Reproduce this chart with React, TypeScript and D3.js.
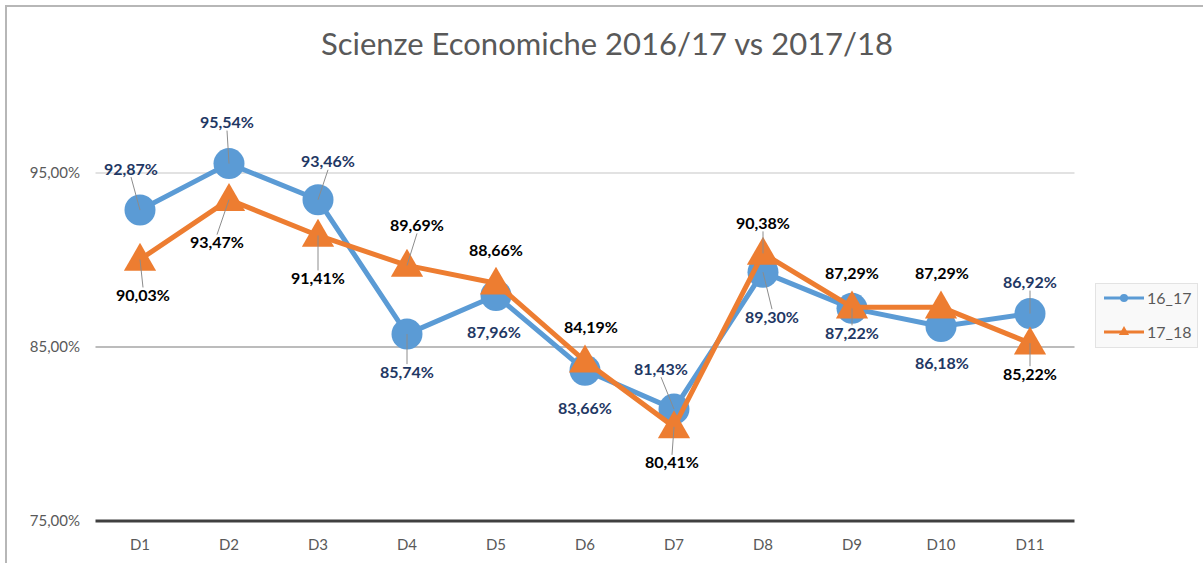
import React from "react";
import * as d3 from "d3";

const categories = ["D1", "D2", "D3", "D4", "D5", "D6", "D7", "D8", "D9", "D10", "D11"];
const series1617 = [92.87, 95.54, 93.46, 85.74, 87.96, 83.66, 81.43, 89.3, 87.22, 86.18, 86.92];
const series1718 = [90.03, 93.47, 91.41, 89.69, 88.66, 84.19, 80.41, 90.38, 87.29, 87.29, 85.22];
const yTicks = [75, 85, 95];
const seriesNames = ["16_17", "17_18"];

// label layout offsets (dx, dy of label centre from the point) and leader-line flags
const labelOff1617: [number, number, boolean][] = [
  [-9, -41, true], [-2, -41, true], [10, -38, true], [0, 38, true], [-2, 37, false],
  [0, 38, false], [-13, -40, true], [9, 45, true], [0, 25, true], [1, 37, false], [0, -31, true],
];
const labelOff1718: [number, number, boolean][] = [
  [3, 36, true], [-12, 43, true], [0, 43, true], [10, -40, true], [0, -33, false],
  [6, -34, false], [-2, 36, true], [0, -30, true], [0, -34, false], [1, -34, false], [0, 31, true],
];

const W = 1203, H = 563;
const BLUE = "#5B9BD5", ORANGE = "#ED7D31";
const FONT = "Lato, 'Open Sans', sans-serif";

const fmt = (v: number) => v.toFixed(2).replace(".", ",") + "%";

export default function App() {
  const x = d3.scaleBand<string>().domain(categories).range([95.5, 1074.5]);
  const y = d3.scaleLinear().domain([75, 95]).range([521, 173]);
  const cx = (c: string) => (x(c) as number) + x.bandwidth() / 2;

  const line = d3.line<number>().x((_, i) => cx(categories[i])).y((v) => y(v));
  const tri = d3.symbol().type(d3.symbolTriangle).size(450)();
  const triSmall = d3.symbol().type(d3.symbolTriangle).size(45)();

  const series = [
    { name: seriesNames[0], values: series1617, color: BLUE, lab: "#1F3864", off: labelOff1617, marker: "circle" },
    { name: seriesNames[1], values: series1718, color: ORANGE, lab: "#000000", off: labelOff1718, marker: "tri" },
  ];

  return (
    <svg width={W} height={H} style={{ position: "absolute", left: 0, top: 0, background: "#fff" }}>
      <rect x={6} y={6} width={1400} height={800} fill="#fff" stroke="#b7b7b7" strokeWidth={2} />
      <text x={607} y={55} textAnchor="middle" fontFamily={FONT} fontSize={31} fill="#595959">
        Scienze Economiche 2016/17 vs 2017/18
      </text>
      {/* gridlines */}
      <line x1={95.5} x2={1074.5} y1={y(95)} y2={y(95)} stroke="#d9d9d9" strokeWidth={1.5} />
      <line x1={95.5} x2={1074.5} y1={y(85)} y2={y(85)} stroke="#a6a6a6" strokeWidth={1.5} />
      <line x1={95.5} x2={1074.5} y1={y(75)} y2={y(75)} stroke="#404040" strokeWidth={3} />
      {yTicks.map((t) => (
        <text key={t} x={80} y={y(t)} dy="0.35em" textAnchor="end" fontFamily={FONT} fontSize={15} fill="#595959">
          {t.toFixed(2).replace(".", ",") + "%"}
        </text>
      ))}
      {categories.map((c) => (
        <text key={c} x={cx(c)} y={545} dy="0.35em" textAnchor="middle" fontFamily={FONT} fontSize={15} fill="#595959">
          {c}
        </text>
      ))}
      {series.map((s) => (
        <g key={s.name}>
          <path d={line(s.values) || ""} fill="none" stroke={s.color} strokeWidth={5} strokeLinejoin="round" />
          {s.values.map((v, i) =>
            s.marker === "circle" ? (
              <circle key={i} cx={cx(categories[i])} cy={y(v)} r={15.5} fill={s.color} />
            ) : (
              <path key={i} d={tri || ""} transform={`translate(${cx(categories[i])},${y(v) + 2})`} fill={s.color} />
            )
          )}
        </g>
      ))}
      {series.map((s) =>
        s.values.map((v, i) => {
          const px = cx(categories[i]);
          const py = y(v);
          const [dx, dy, lead] = s.off[i];
          const lx = px + dx;
          const ly = py + dy;
          const edge = dy < 0 ? ly + 8 : ly - 8;
          return (
            <g key={s.name + i}>
              {lead && <line x1={lx} y1={edge} x2={px} y2={py} stroke="#8c8c8c" strokeWidth={1} />}
              <text x={lx} y={ly} dy="0.35em" textAnchor="middle" fontFamily={FONT} fontSize={16} fontWeight="bold" fill={s.lab}>
                {fmt(v)}
              </text>
            </g>
          );
        })
      )}
      {/* legend */}
      <rect x={1095.5} y={283.5} width={102} height={64} fill="#f9f9f9" stroke="#e3e3e3" />
      {series.map((s, i) => {
        const ly = 298 + i * 34;
        return (
          <g key={s.name}>
            <line x1={1104} x2={1144} y1={ly} y2={ly} stroke={s.color} strokeWidth={3} />
            {s.marker === "circle" ? (
              <circle cx={1124} cy={ly} r={4} fill={s.color} />
            ) : (
              <path d={triSmall || ""} transform={`translate(1124,${ly})`} fill={s.color} />
            )}
            <text x={1147} y={ly} dy="0.35em" fontFamily={FONT} fontSize={16} fill="#595959">
              {s.name}
            </text>
          </g>
        );
      })}
    </svg>
  );
}
